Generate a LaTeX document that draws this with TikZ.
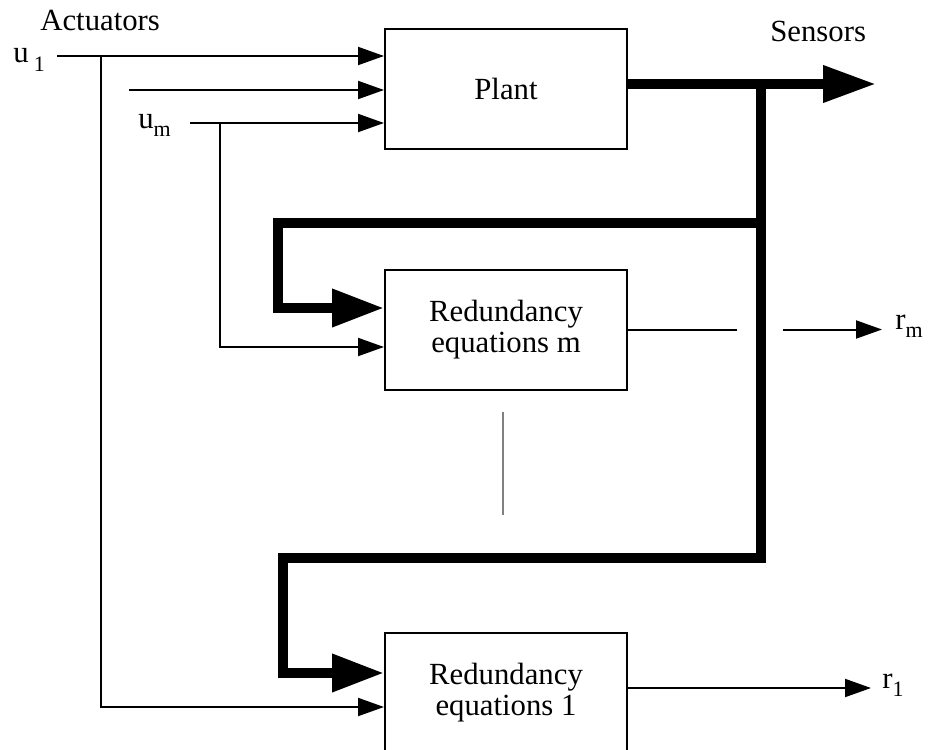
\documentclass[tikz,border=0pt]{standalone}
\usepackage{fontspec}
\setmainfont{Liberation Serif}
\usetikzlibrary{arrows.meta}
\newcommand\lowsub[1]{\raisebox{-0.27em}{\fontsize{12.5}{12.5}\selectfont #1}}
\tikzset{
  >={Triangle[length=5.2mm, width=3.6mm]},
  every picture/.style={line join=miter},
  sig/.style={line width=0.4mm},
  bus/.style={line width=2mm},
  busarr/.style={-{Triangle[length=10.4mm, width=7.2mm]}},
  % plant and residual generators
  block/.style={draw, line width=0.4mm, minimum width=48.4mm, minimum height=24mm,
    inner sep=0pt, align=center},
  lbl/.style={anchor=base west, inner sep=0pt},
}
\begin{document}
\begin{tikzpicture}[x=0.2mm, y=-0.2mm, font=\fontsize{17.5}{17.6}\selectfont]
  \useasboundingbox (0,0) rectangle (929,750);
  % ---- blocks
  \node[block] (plant) at (506,89) {Plant};
  \node[block] (redm) at (506,329.5) {Redundancy\\equations m};
  \node[block] (red1) at (506,692.5) {Redundancy\\equations 1};
  % ---- labels
  \node[lbl] (act) at (40,30) {Actuators};
  \node[lbl] (u1) at (13,63) {u\,\lowsub{1}};
  \node[lbl] (um) at (138,128) {u\lowsub{m}};
  \node[lbl] (sens) at (770,41) {Sensors};
  \node[lbl] (rm) at (895,329.5) {r\lowsub{m}};
  \node[lbl] (r1) at (882,688) {r\lowsub{1}};
  % ---- actuator inputs
  \coordinate (u1in) at (57,56);
  \coordinate (umid) at (129,90);
  \coordinate (umin) at (190,123);
  \coordinate (j1) at (101,56);
  \coordinate (jm) at (220,123);
  \draw[sig, ->] (u1in) -- (u1in -| plant.west);
  \draw[sig, ->] (umid) -- (umid -| plant.west);
  \draw[sig, ->] (umin) -- (umin -| plant.west);
  \draw[sig, ->] (jm) |- (redm.west |- 0,347);
  \draw[sig, ->] (j1) |- (red1.west |- 0,707);
  % ---- sensor bus
  \coordinate (tap) at (761,84);
  \coordinate (sout) at (876,84);
  \coordinate (cm) at (278,223);
  \coordinate (c1) at (283,558);
  \draw[bus, -{Triangle[length=10.6mm, width=7mm]}] (plant.east |- tap) -- (sout);
  \draw[bus, busarr] (tap) |- (cm) -- (cm |- 0,308) -- (redm.west |- 0,308);
  \draw[bus, busarr] (tap) |- (c1) -- (c1 |- 0,673) -- (red1.west |- 0,673);
  % ---- residuals
  \coordinate (gapl) at (737,329.5);
  \coordinate (gapr) at (783,329.5);
  \draw[sig] (redm.east) -- (gapl);
  \draw[sig, ->] (gapr) -- (882,329.5);
  \draw[sig, ->] (red1.east |- 0,688) -- (871,688);
  % ---- more equations in between
  \draw[sig, gray] (503,412) -- (503,515);
\end{tikzpicture}
\end{document}
